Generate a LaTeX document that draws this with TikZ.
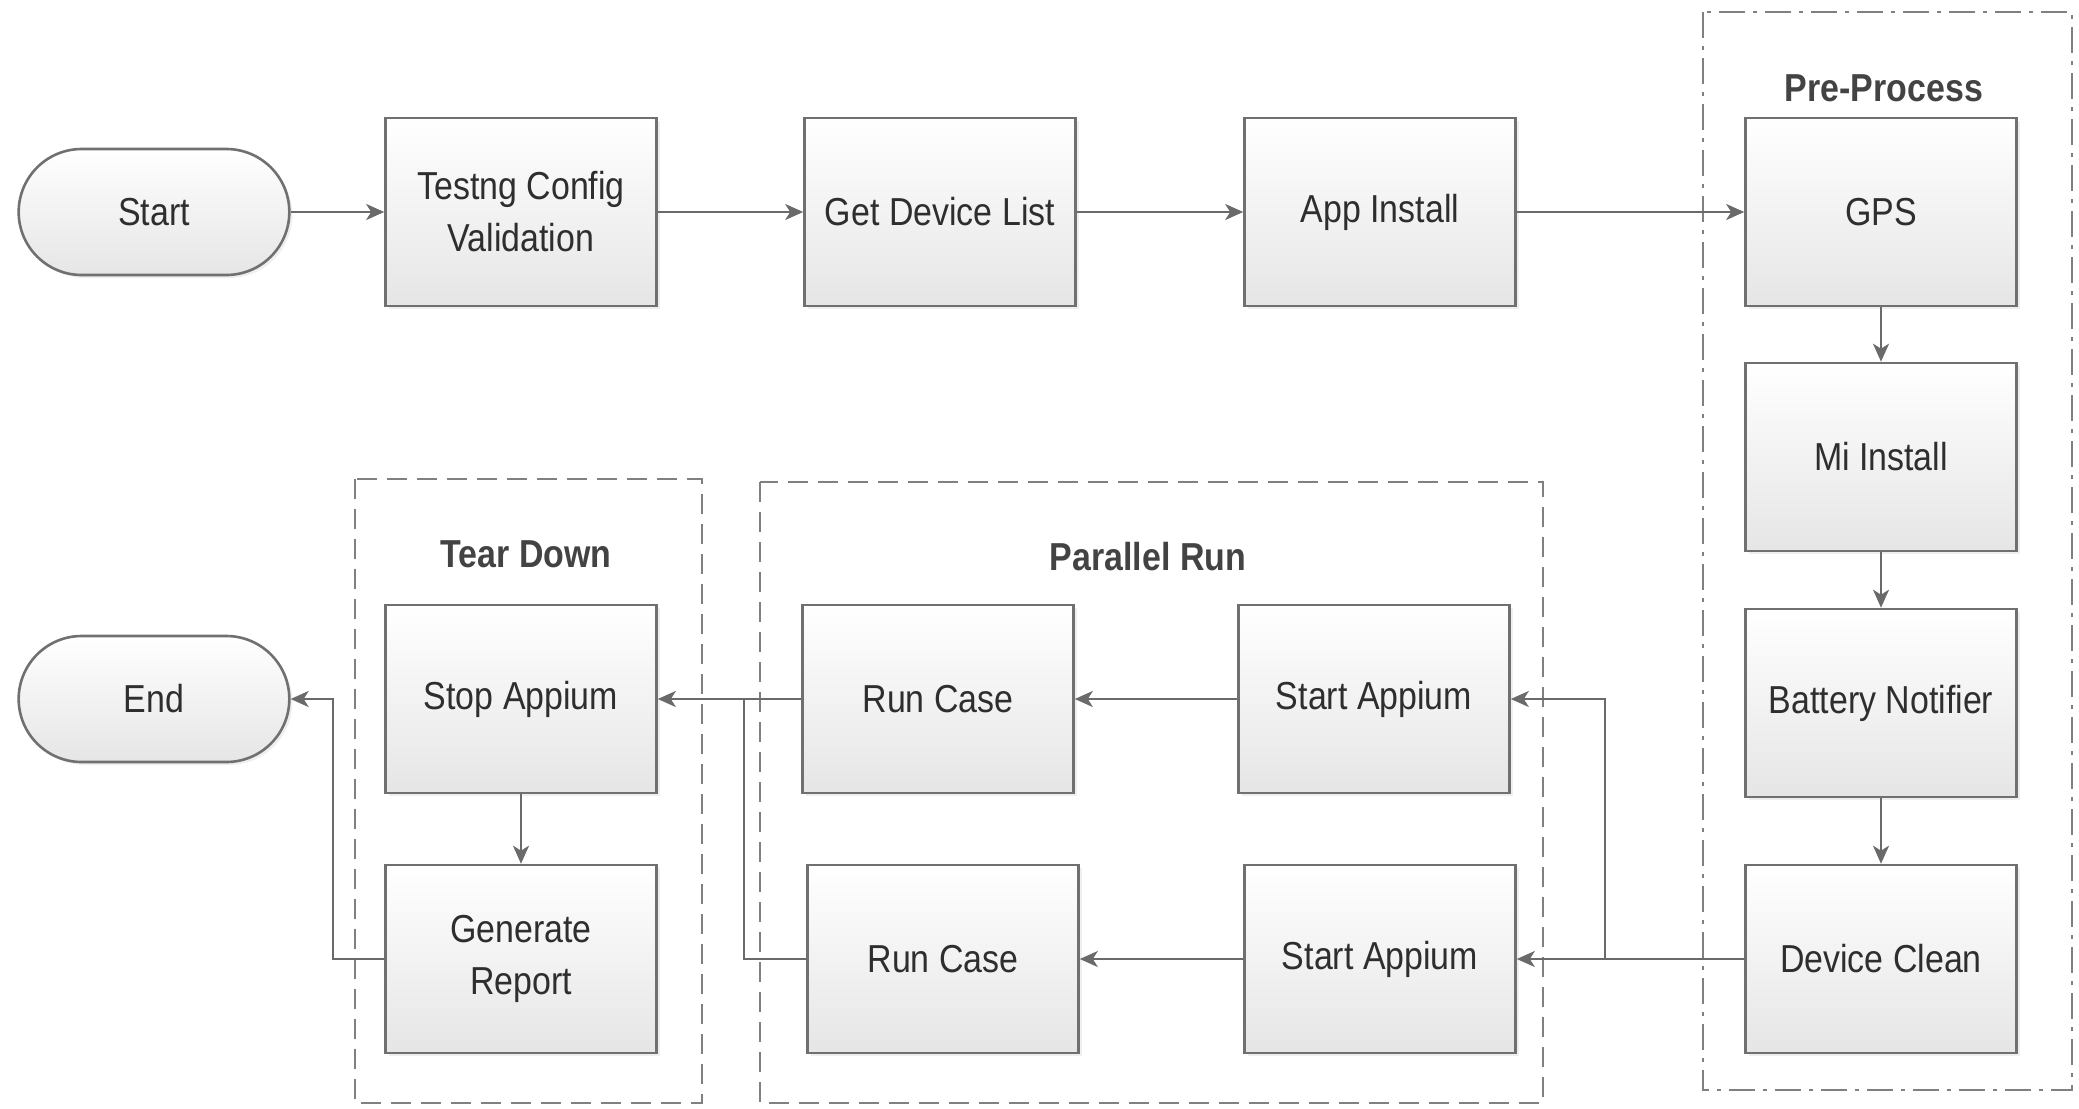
\documentclass[tikz,border=0pt]{standalone}
\usepackage{fontspec}
\setmainfont{Liberation Sans}[FakeStretch=0.87]
\usetikzlibrary{arrows.meta,shapes.misc,shadows}
\definecolor{linegray}{HTML}{6A6A6A}
\definecolor{boxgray}{HTML}{707070}
\definecolor{txt}{HTML}{2E2E2E}
\begin{document}
\begin{tikzpicture}[x=0.5pt,y=-0.5pt,
  every node/.style={text=txt,font=\fontsize{19.5}{26}\selectfont},
  boxnode/.style={rectangle,draw=boxgray,line width=1.3pt,top color=white,bottom color=black!10,
     minimum width=135.5pt,minimum height=94pt,align=center,inner sep=2pt,
     drop shadow={opacity=0.12,shadow xshift=1.5pt,shadow yshift=-1.5pt}},
  termnode/.style={rounded rectangle,rounded rectangle arc length=180,draw=boxgray,line width=1.3pt,
     top color=white,bottom color=black!10,minimum width=142pt,minimum height=63pt,
     drop shadow={opacity=0.12,shadow xshift=1.5pt,shadow yshift=-1.5pt}},
  grouptitle/.style={font=\bfseries\fontsize{19.5}{24}\selectfont,text=txt!90},
  dashgroup/.style={draw=linegray!85,line width=1.1pt,dash pattern=on 10pt off 5pt},
  dashdotgroup/.style={draw=linegray!85,line width=1.1pt,dash pattern=on 13pt off 4pt on 2pt off 4pt},
  arr/.style={draw=linegray,line width=1.2pt,-{Stealth[length=9pt,width=8pt,inset=2.5pt]}},
  plain/.style={draw=linegray,line width=1.2pt}
]
\fill[white] (0,0) rectangle (2079,1109);
\useasboundingbox (0,0) rectangle (2079,1109);

% groups
\draw[dashdotgroup] (1703,12) rectangle (2072,1090);
\draw[dashgroup] (760,482) rectangle (1543,1103);
\draw[dashgroup] (355,479) rectangle (702,1103);
\node[grouptitle] (tpre) at (1884,88) {Pre-Process};
\node[grouptitle] (tpar) at (1148,557) {Parallel Run};
\node[grouptitle] (ttear) at (526,554) {Tear Down};

% nodes
\node[termnode] (start) at (154,212) {Start};
\node[boxnode] (tc) at (521,212) {Testng Config\\Validation};
\node[boxnode] (gdl) at (940,212) {Get Device List};
\node[boxnode] (app) at (1380,212) {App Install};
\node[boxnode] (gps) at (1881,212) {GPS};
\node[boxnode] (mi) at (1881,457) {Mi Install};
\node[boxnode] (bat) at (1881,703) {Battery Notifier};
\node[boxnode] (dc) at (1881,959) {Device Clean};
\node[boxnode] (sa1) at (1374,699) {Start Appium};
\node[boxnode] (sa2) at (1380,959) {Start Appium};
\node[boxnode] (rc1) at (938,699) {Run Case};
\node[boxnode] (rc2) at (943,959) {Run Case};
\node[boxnode] (stop) at (521,699) {Stop Appium};
\node[boxnode] (gen) at (521,959) {Generate\\Report};
\node[termnode] (end) at (154,699) {End};

% junctions
\coordinate (j1) at (1605,959);
\coordinate (j2) at (744,699);
\coordinate (j3) at (333,699);

% connectors
\draw[arr] (start.east) -- (tc.west);
\draw[arr] (tc.east) -- (gdl.west);
\draw[arr] (gdl.east) -- (app.west);
\draw[arr] (app.east) -- (gps.west);
\draw[arr] (gps.south) -- (mi.north);
\draw[arr] (mi.south) -- (bat.north);
\draw[arr] (bat.south) -- (dc.north);
\draw[arr] (dc.west) -- (sa2.east);
\draw[arr] (j1) |- (sa1.east);
\draw[arr] (sa1.west) -- (rc1.east);
\draw[arr] (sa2.west) -- (rc2.east);
\draw[arr] (rc1.west) -- (stop.east);
\draw[plain] (rc2.west) -| (j2);
\draw[arr] (stop.south) -- (gen.north);
\draw[arr] (gen.west) -| (j3) -- (end.east);
\end{tikzpicture}
\end{document}
